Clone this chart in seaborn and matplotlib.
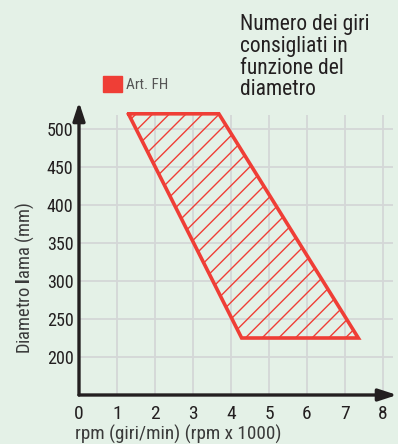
import matplotlib
matplotlib.use("Agg")
import matplotlib.pyplot as plt
from matplotlib.patches import Patch
import seaborn as sns
import pandas as pd

# Recommended operating range: rpm (x1000) vs blade diameter (mm)
rpm_k = [1.3, 3.68, 7.35, 4.28]
diameter_mm = [520, 520, 225, 225]
series_name = "Art. FH"

x_ticks = [0, 1, 2, 3, 4, 5, 6, 7, 8]
y_ticks = [200, 250, 300, 350, 400, 450, 500]

title_text = "Numero dei giri\nconsigliati in\nfunzione del\ndiametro"
x_label = "rpm (giri/min) (rpm x 1000)"
y_label = r"Diametro $\mathbf{l}$ama (mm)"

BG = "#e4f1e7"
RED = "#ef3e36"
GRID = "#d4d7d7"
INK = "#231f20"

sns.set_style("white")
plt.rcParams["font.family"] = ["Roboto Condensed", "Archivo Narrow", "PT Sans Narrow",
                               "DejaVu Sans"]
plt.rcParams["mathtext.fontset"] = "custom"
plt.rcParams["mathtext.rm"] = "Roboto Condensed"
plt.rcParams["mathtext.bf"] = "Roboto Condensed:bold"
plt.rcParams["hatch.linewidth"] = 1.0

fig = plt.figure(figsize=(3.98, 4.44), dpi=100, facecolor=BG)
ax = fig.add_axes([79 / 398, 49 / 444, 318 / 398, 293 / 444])
ax.set_facecolor(BG)
ax.set_xlim(0, 318 / 38)
ax.set_ylim(150, 150 + 293 / 0.76)

# light grid
ax.vlines(x_ticks[1:], 150, 518, color=GRID, lw=1.3, zorder=0)
ax.hlines(y_ticks, 0, 8.27, color=GRID, lw=1.3, zorder=0)

# hatched region with a bold outline
df = pd.DataFrame({"rpm": rpm_k + rpm_k[:1], "diam": diameter_mm + diameter_mm[:1]})
ax.fill(rpm_k, diameter_mm, facecolor="none", edgecolor=RED, hatch="//", lw=0, zorder=2)
sns.lineplot(data=df, x="rpm", y="diam", sort=False, estimator=None,
             color=RED, lw=2.6, ax=ax, zorder=3)
ax.lines[-1].set_solid_joinstyle("miter")

# axes drawn as arrows
for s in ax.spines.values():
    s.set_visible(False)
arrow = dict(arrowstyle="-|>,head_length=1.1,head_width=0.36", color=INK, lw=2.4,
             shrinkA=0, shrinkB=0)
ax.annotate("", xy=(0, 1), xytext=(0, 0), xycoords="axes fraction", arrowprops=arrow,
            annotation_clip=False)
ax.annotate("", xy=(1, 0), xytext=(0, 0), xycoords="axes fraction", arrowprops=arrow,
            annotation_clip=False)

ax.set_xticks(x_ticks)
ax.set_yticks(y_ticks)
ax.tick_params(axis="x", length=0, pad=7, labelsize=14, labelcolor=INK)
ax.tick_params(axis="y", length=0, pad=4, labelsize=13, labelcolor=INK)

ax.set_xlabel(x_label, fontsize=13.8, color="#3a3a3a", ha="left")
ax.xaxis.set_label_coords(-4 / 318, -0.102)
ax.xaxis.label.set_va("top")
ax.set_ylabel(y_label, fontsize=13.3, color="#3a3a3a")
ax.yaxis.set_label_coords(-0.135, 0.40)

fig.text(240 / 398, 1 - 14 / 444, title_text, fontsize=15.5, color=INK,
         ha="left", va="top", linespacing=1.05)

ax.legend(handles=[Patch(facecolor=RED, edgecolor=RED, label=series_name)],
          loc="upper left", bbox_to_anchor=(103 / 398, 1 - 76 / 444),
          bbox_transform=fig.transFigure, frameon=False, fontsize=11,
          handlelength=1.25, handleheight=1.25, handletextpad=0.25,
          borderaxespad=0, borderpad=0, labelcolor="#555555")

fig.savefig("out.png", dpi=100, facecolor=BG)
